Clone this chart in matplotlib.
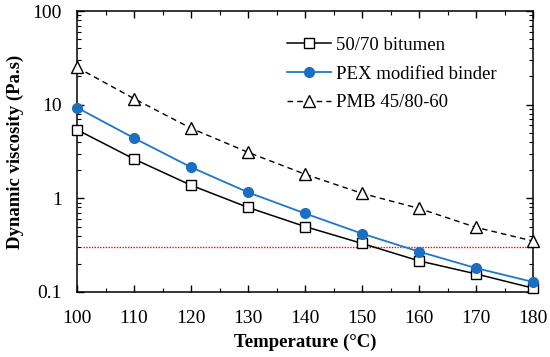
import numpy as np
import matplotlib.pyplot as plt
from matplotlib.ticker import LogLocator, MultipleLocator, FixedLocator

# temperatures and viscosities
temps = [100, 110, 120, 130, 140, 150, 160, 170, 180]
bitumen_5070 = [5.4, 2.63, 1.38, 0.80, 0.50, 0.33, 0.215, 0.156, 0.11]
pex_binder = [9.3, 4.4, 2.15, 1.16, 0.69, 0.42, 0.27, 0.18, 0.128]
pmb_4580 = [25.0, 11.6, 5.6, 3.1, 1.81, 1.13, 0.78, 0.49, 0.35]
limit_visc = 0.3

plt.rcParams['font.family'] = ['Liberation Serif', 'DejaVu Serif']

fig = plt.figure(figsize=(5.5, 3.57), dpi=100)
ax = fig.add_axes([77/550, 1-292/357, (533-77)/550, (292-11)/357])

ax.plot(temps, bitumen_5070, color="black", lw=1.1, marker="s", ms=7,
        mfc="white", mec="black", mew=1.0, label="50/70 bitumen", zorder=3, clip_on=False)
ax.plot(temps, pex_binder, color="#1f77c8", lw=1.3, marker="o", ms=7,
        mfc="#1a6fc2", mec="#1a6fc2", label="PEX modified binder", zorder=3, clip_on=False)
ax.plot(temps, pmb_4580, color="black", lw=1.0, ls=(0, (4, 3)), marker="^", ms=8,
        mfc="white", mec="black", mew=1.0, label="PMB 45/80-60", zorder=3, clip_on=False)
ax.hlines(limit_visc, 101, 180, colors="red", linestyles=(0, (1, 1)), lw=1.0, zorder=2)

ax.set_yscale("log")
ax.set_xlim(100, 180)
ax.set_ylim(0.1, 100)
ax.xaxis.set_major_locator(MultipleLocator(10))
ax.xaxis.set_minor_locator(MultipleLocator(5))
ax.yaxis.set_major_locator(FixedLocator([0.1, 1, 10, 100]))
ax.yaxis.set_minor_locator(LogLocator(base=10, subs=np.arange(2, 10)))
ax.set_yticklabels(["0.1", "1", "10", "100"])
ax.tick_params(which="both", direction="in", top=True, right=True, labelsize=14)
ax.tick_params(axis="x", pad=13)
ax.tick_params(axis="y", pad=11)
ax.tick_params(which="major", length=5, width=1)
ax.tick_params(which="minor", length=3, width=0.8)
for s in ax.spines.values():
    s.set_linewidth(1.1)

ax.set_xlabel("Temperature (°C)", fontweight="bold", fontsize=13.5, labelpad=5)
ax.set_ylabel("Dynamic viscosity (Pa.s)", fontweight="bold", fontsize=13.5, labelpad=6)

ax.legend(loc="upper left", frameon=False, fontsize=13.5, handlelength=2.3,
          borderaxespad=0, labelspacing=0.62, handletextpad=0.3,
          bbox_to_anchor=(0.445, 0.935))

fig.savefig("out.png", dpi=100)
